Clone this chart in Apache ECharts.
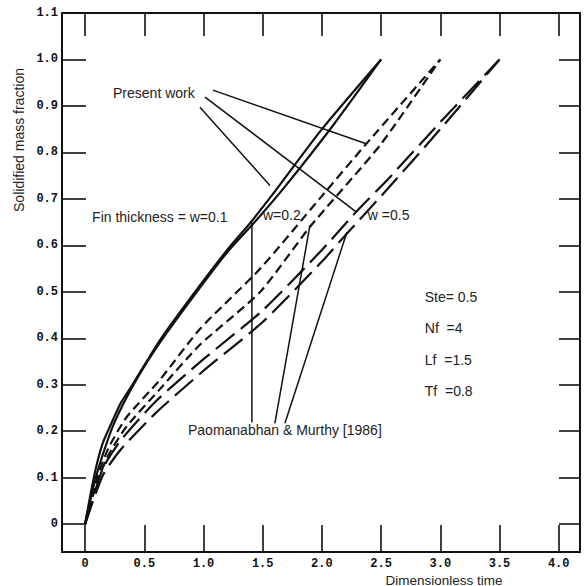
<!DOCTYPE html>
<html><head><meta charset="utf-8">
<script src="https://cdn.jsdelivr.net/npm/echarts@6/dist/echarts.min.js"></script>
<style>html,body{margin:0;padding:0;background:#fff}#c{width:584px;height:586px}</style>
</head><body><div id="c"></div><script>
// ---- axes ----
const xTicks = [0, 0.5, 1, 1.5, 2, 2.5, 3, 3.5, 4];
const yTicks = [0, 0.1, 0.2, 0.3, 0.4, 0.5, 0.6, 0.7, 0.8, 0.9, 1.0, 1.1];
const xRange = [-0.195, 4.18];
const yRange = [-0.06, 1.1];
const xTitle = 'Dimensionless time';
const yTitle = 'Solidified mass fraction';

// ---- curves [time, fraction] ----
const w01Present = [[0,0],[0.05,0.07],[0.1,0.13],[0.15,0.175],[0.21,0.21],[0.3,0.26],[0.4,0.3],[0.63,0.395],[0.9,0.49],[1.2,0.59],[1.4,0.65],[1.6,0.715],[2.0,0.85],[2.5,1.0]];
const w01Paom = [[0,0],[0.08,0.09],[0.15,0.15],[0.25,0.22],[0.42,0.305],[0.63,0.39],[0.9,0.485],[1.2,0.585],[1.45,0.655],[1.7,0.73],[2.1,0.86],[2.5,1.0]];
const w02Present = [[0,0],[0.1,0.1],[0.2,0.165],[0.35,0.23],[0.63,0.31],[0.97,0.42],[1.48,0.55],[1.98,0.70],[2.38,0.82],[3.0,1.0]];
const w02Paom = [[0,0],[0.1,0.09],[0.2,0.15],[0.35,0.21],[0.63,0.29],[0.97,0.386],[1.48,0.50],[1.9,0.64],[2.49,0.815],[3.0,1.0]];
const w05Present = [[0,0],[0.15,0.12],[0.3,0.18],[0.6,0.265],[1.0,0.355],[1.5,0.46],[2.0,0.59],[2.3,0.675],[2.55,0.74],[3.0,0.865],[3.5,1.0]];
const w05Paom = [[0,0],[0.15,0.105],[0.3,0.16],[0.6,0.24],[1.0,0.33],[1.5,0.435],[2.0,0.565],[2.21,0.625],[2.55,0.72],[3.0,0.85],[3.5,1.0]];

// ---- annotations ----
const noteTexts = ['Present work','Fin thickness = w=0.1','w=0.2','w =0.5','Paomanabhan & Murthy [1986]','Ste= 0.5','Nf\u00a0\u00a0=4','Lf\u00a0\u00a0=1.5','Tf\u00a0\u00a0=0.8'];
const noteAnchors = [[0.236,0.927],[0.059,0.661],[1.502,0.665],[2.388,0.665],[0.869,0.202],[2.869,0.488],[2.869,0.422],[2.869,0.353],[2.869,0.286]];
const pointers = [
  [[1.08,0.934],[2.38,0.818]],
  [[1.013,0.919],[2.295,0.671]],
  [[0.97,0.897],[1.561,0.729]],
  [[1.409,0.650],[1.409,0.219]],
  [[1.899,0.643],[1.603,0.217]],
  [[2.211,0.628],[1.688,0.217]]
];

const INK = '#111';
const fmt = v => (Math.abs(v) < 1e-9 ? '0' : v.toFixed(1));
const tickLabel = {fontFamily:'Liberation Mono', fontWeight:'bold', fontSize:12, color:INK};

function axisX(pos, showLabel, len){
  return {type:'value', position:pos, min:xRange[0], max:xRange[1], gridIndex:0,
    splitLine:{show:false},
    axisLine:{show:true, onZero:false, lineStyle:{color:INK, width:2}},
    axisTick:{show:true, inside:true, length:len, customValues:xTicks, lineStyle:{color:INK, width:1.6}},
    axisLabel:Object.assign({show:showLabel, margin:6, customValues:xTicks, formatter:fmt}, tickLabel)};
}
function axisY(pos, showLabel, len){
  return {type:'value', position:pos, min:yRange[0], max:yRange[1], gridIndex:0,
    splitLine:{show:false},
    axisLine:{show:true, onZero:false, lineStyle:{color:INK, width:2}},
    axisTick:{show:true, inside:true, length:len, customValues:yTicks, lineStyle:{color:INK, width:1.6}},
    axisLabel:Object.assign({show:showLabel, margin:4, customValues:yTicks, formatter:fmt}, tickLabel)};
}

function curve(data, dash){
  return {type:'line', data:data, xAxisIndex:0, yAxisIndex:0, showSymbol:false, symbol:'none', smooth:0.2, silent:true,
    lineStyle:{color:INK, width:2.2, type:dash, cap:'butt'}};
}

const series = [
  curve(w01Present, 'solid'),
  curve(w01Paom, 'solid'),
  curve(w02Present, [9,5]),
  curve(w02Paom, [9,5]),
  curve(w05Present, [24,8]),
  curve(w05Paom, [24,8])
];
pointers.forEach(p => series.push({type:'line', data:p, xAxisIndex:0, yAxisIndex:0, showSymbol:false, symbol:'none', silent:true,
  lineStyle:{color:INK, width:1.5}}));

const chart = echarts.init(document.getElementById('c'), null, {renderer:'svg'});
chart.setOption({
  animation:false,
  backgroundColor:'#fff',
  grid:{left:62, right:4, top:13, bottom:34, containLabel:false},
  xAxis:[axisX('bottom', true, 27), axisX('top', false, 23)],
  yAxis:[axisY('left', true, 24), axisY('right', false, 21)],
  series:series
});

const textStyle = {fontFamily:'Liberation Sans, Arial', fontSize:14, fill:'#222'};
const graphics = noteTexts.map((t,i) => {
  const p = chart.convertToPixel({gridIndex:0}, noteAnchors[i]);
  return {type:'text', x:p[0], y:p[1], silent:true,
    style:Object.assign({text:t, textAlign:'left', textVerticalAlign:'middle'}, textStyle)};
});
graphics.push({type:'text', x:444, y:580, silent:true,
  style:Object.assign({text:xTitle, textAlign:'center', textVerticalAlign:'middle'}, textStyle, {fontSize:13.5})});
graphics.push({type:'text', x:19, y:140, rotation:Math.PI/2, silent:true,
  style:Object.assign({text:yTitle, textAlign:'center', textVerticalAlign:'middle'}, textStyle)});
chart.setOption({graphic:graphics});
</script></body></html>
